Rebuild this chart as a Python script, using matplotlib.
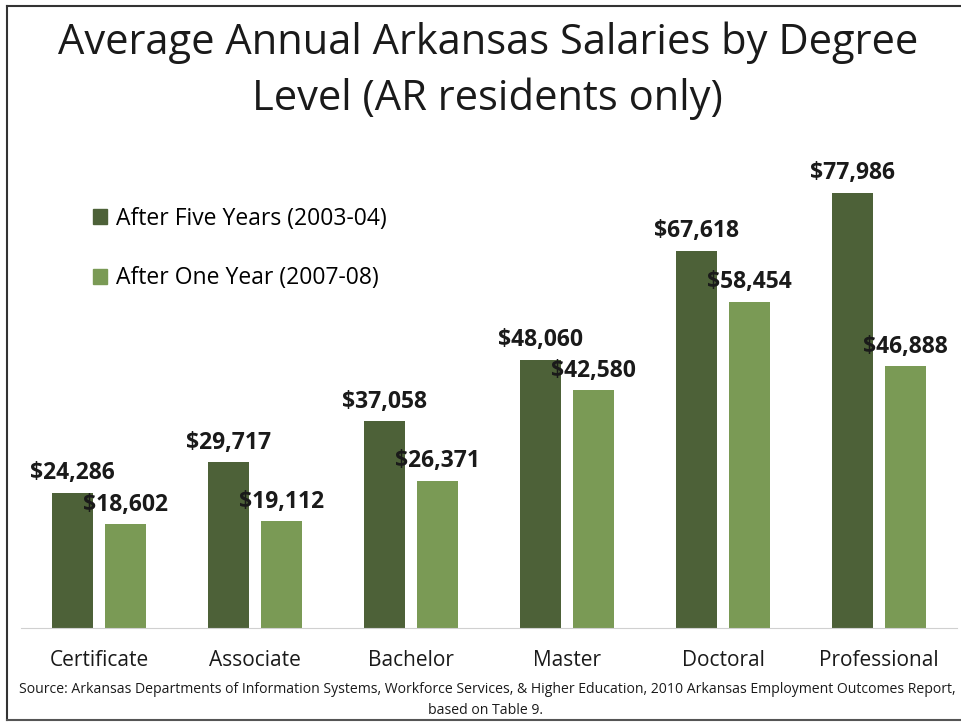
import numpy as np
import matplotlib.pyplot as plt
from matplotlib.lines import Line2D
from matplotlib.patches import Patch

plt.rcParams['font.family'] = ['Open Sans', 'DejaVu Sans']

categories = ['Certificate', 'Associate', 'Bachelor', 'Master', 'Doctoral', 'Professional']
five_years = [24286, 29717, 37058, 48060, 67618, 77986]
one_year = [18602, 19112, 26371, 42580, 58454, 46888]
series_names = ['After Five Years (2003-04)', 'After One Year (2007-08)']

dark = '#4d6138'
light = '#7a9a55'

fig = plt.figure(figsize=(9.62, 7.24), dpi=100)
ax = fig.add_axes([0.0218, 0.1326, 0.973, 0.6934])

x = np.arange(len(categories))
w = 0.265
off = 0.17
b1 = ax.bar(x - off, five_years, w, color=dark)
b2 = ax.bar(x + off, one_year, w, color=light)

for rects, vals in [(b1, five_years), (b2, one_year)]:
    for r, v in zip(rects, vals):
        ax.annotate('${:,}'.format(v), (r.get_x() + r.get_width() / 2, v),
                    xytext=(0, 5.5), textcoords='offset points', ha='center', va='bottom',
                    fontsize=16.5, fontweight='bold', color='#1a1a1a')

ax.set_xlim(-0.5, 5.5)
ax.set_ylim(0, 90000)
ax.set_xticks(x)
ax.set_xticklabels(categories, fontsize=15, color='#1a1a1a')
ax.tick_params(axis='x', length=0, pad=16)
ax.set_yticks([])
for s in ['top', 'right', 'left']:
    ax.spines[s].set_visible(False)
ax.spines['bottom'].set_color('#d0d0d0')

handles = [Patch(color=dark), Patch(color=light)]
leg = ax.legend(handles, series_names, loc='upper left', bbox_to_anchor=(0.055, 0.88),
                frameon=False, fontsize=16.5, handlelength=0.6, handleheight=0.6,
                handletextpad=0.4, labelspacing=1.55)

fig.text(0.507, 0.941, 'Average Annual Arkansas Salaries by Degree', ha='center', va='center',
         fontsize=30, color='#1a1a1a')
fig.text(0.507, 0.864, 'Level (AR residents only)', ha='center', va='center',
         fontsize=30, color='#1a1a1a')

fig.text(0.507, 0.047, 'Source: Arkansas Departments of Information Systems, Workforce Services, & Higher Education, 2010 Arkansas Employment Outcomes Report,',
         ha='center', va='center', fontsize=10.1, color='#1a1a1a')
fig.text(0.505, 0.019, 'based on Table 9.', ha='center', va='center', fontsize=10.1, color='#1a1a1a')

# page frame
fig.add_artist(Line2D([0.007, 1.0], [0.992, 0.992], color='#333333', lw=1.5))
fig.add_artist(Line2D([0.007, 0.007], [0.006, 0.992], color='#333333', lw=1.5))
fig.add_artist(Line2D([0.007, 1.0], [0.006, 0.006], color='#555555', lw=1.5))

fig.savefig('out.png', dpi=100)
